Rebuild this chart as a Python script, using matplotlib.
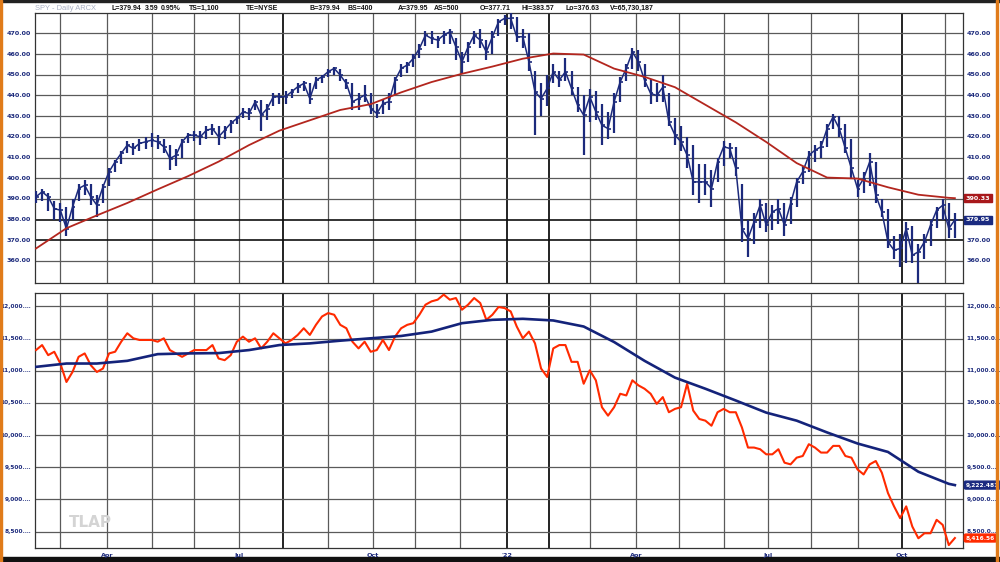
import numpy as np
import pandas as pd
import matplotlib
matplotlib.use("Agg")
import matplotlib.pyplot as plt
from matplotlib.patches import Rectangle

# ---------------- data ----------------
start_date = "2021-02-11"
end_date = "2022-11-14"
bar_step = 3  # each bar spans 3 business days

close = [391.0, 393.4, 391.0, 385.3, 384.5, 375.6, 386.1, 395.0, 396.6, 391.0,
         387.0, 395.8, 403.1, 407.9, 412.0, 416.0, 414.4, 416.8, 417.6, 418.4,
         417.6, 415.2, 409.5, 411.1, 417.6, 420.8, 420.8, 420.0, 423.2, 424.0,
         420.0, 423.2, 426.5, 428.9, 432.1, 431.3, 436.9, 430.5, 433.7, 439.4,
         439.4, 439.4, 441.8, 444.2, 445.8, 438.5, 447.4, 449.0, 451.5, 453.1,
         449.8, 445.8, 437.0, 438.5, 440.2, 433.7, 431.3, 436.1, 437.0, 447.4,
         453.1, 454.7, 457.9, 462.7, 469.2, 467.6, 466.8, 469.2, 470.8, 463.5,
         456.3, 463.5, 469.2, 466.8, 461.1, 468.4, 475.6, 477.3, 477.3, 468.4,
         468.4, 456.3, 441.8, 438.5, 443.4, 451.5, 447.4, 451.5, 443.4, 435.3,
         430.5, 439.4, 432.1, 425.6, 424.0, 437.0, 446.6, 453.1, 461.1, 456.3,
         447.4, 441.0, 440.0, 444.0, 427.3, 420.8, 417.6, 411.1, 398.2, 398.2,
         398.2, 395.0, 407.9, 415.2, 414.4, 404.7, 375.6, 370.8, 378.9, 387.0,
         377.3, 383.7, 385.3, 377.3, 387.7, 398.2, 403.1, 411.1, 413.5, 415.2,
         424.0, 429.7, 424.0, 414.4, 404.7, 395.0, 399.8, 407.9, 391.8, 383.7,
         369.2, 365.2, 366.0, 375.6, 362.7, 364.4, 369.2, 377.3, 384.5, 386.9,
         375.6, 379.9]

high = [394, 395, 393, 389, 388, 386, 390, 397, 399, 397,
        392, 397, 405, 409, 413, 418, 417, 419, 420, 422,
        421, 419, 416, 414, 419, 422, 423, 423, 425, 426,
        425, 425, 428, 430, 434, 434, 438, 438, 436, 441,
        441, 442, 443, 446, 447, 446, 449, 450, 453, 454,
        453, 448, 446, 441, 445, 441, 436, 438, 441, 449,
        455, 456, 460, 465, 471, 471, 469, 471, 472, 468,
        461, 466, 471, 472, 467, 471, 477, 479, 480, 478,
        472, 470, 452, 446, 450, 455, 452, 458, 452, 444,
        440, 443, 442, 436, 432, 441, 449, 455, 463, 462,
        455, 448, 446, 450, 441, 429, 425, 420, 416, 407,
        407, 404, 410, 418, 417, 415, 397, 380, 383, 390,
        388, 387, 390, 388, 391, 400, 406, 413, 416, 418,
        426, 431, 430, 426, 419, 399, 403, 412, 408, 390,
        385, 372, 373, 379, 377, 368, 373, 380, 386, 390,
        388, 383]

low = [388, 389, 384, 380, 379, 372, 380, 389, 392, 387,
       381, 388, 396, 403, 407, 412, 411, 413, 414, 415,
       414, 412, 404, 406, 410, 417, 418, 416, 419, 421,
       416, 419, 422, 426, 429, 428, 433, 423, 428, 435,
       436, 436, 439, 441, 442, 436, 443, 446, 449, 450,
       447, 443, 433, 433, 437, 431, 429, 431, 433, 440,
       449, 451, 454, 458, 464, 465, 463, 465, 465, 457,
       451, 456, 465, 463, 457, 460, 469, 474, 472, 466,
       463, 452, 421, 430, 435, 446, 444, 447, 440, 432,
       411, 427, 428, 416, 419, 422, 437, 447, 453, 452,
       444, 436, 437, 437, 425, 416, 413, 405, 392, 388,
       392, 386, 398, 406, 410, 401, 369, 362, 368, 376,
       374, 375, 378, 372, 378, 386, 397, 403, 408, 410,
       415, 424, 420, 412, 400, 391, 393, 396, 388, 381,
       366, 361, 357, 359, 359, 349, 361, 367, 376, 380,
       371, 371]

# 200-day moving average, one value every 5 bars (plus the last bar)
ma200 = [366.0, 375.8, 382.0, 388.0, 394.6, 401.0, 408.0, 416.0, 423.0, 428.0,
         433.0, 435.8, 441.5, 446.5, 450.5, 454.0, 457.8, 460.3, 459.8, 453.0,
         449.0, 444.0, 435.5, 427.0, 417.5, 407.3, 400.3, 399.8, 395.6, 392.0,
         390.5, 390.33]

# lower panel: red line (one value per bar) and blue average (every 5 bars + last)
red_line = [11321, 11399, 11242, 11295, 11112, 10825, 10981, 11216, 11269, 11086,
            10981, 11034, 11269, 11295, 11451, 11582, 11504, 11478, 11478, 11478,
            11451, 11504, 11321, 11269, 11216, 11269, 11321, 11321, 11321, 11399,
            11190, 11164, 11242, 11451, 11530, 11451, 11504, 11347, 11451, 11582,
            11504, 11425, 11478, 11556, 11660, 11556, 11713, 11843, 11896, 11870,
            11713, 11660, 11451, 11347, 11451, 11295, 11321, 11478, 11321, 11530,
            11660, 11713, 11739, 11870, 12026, 12078, 12104, 12183, 12104, 12130,
            11948, 12026, 12130, 12052, 11791, 11870, 11990, 11974, 11922, 11687,
            11504, 11608, 11425, 11034, 10903, 11347, 11399, 11399, 11138, 11138,
            10798, 11007, 10851, 10433, 10302, 10433, 10642, 10616, 10851, 10772,
            10720, 10642, 10485, 10590, 10355, 10407, 10433, 10798, 10381, 10250,
            10224, 10145, 10355, 10407, 10355, 10355, 10119, 9806, 9806, 9780,
            9701, 9701, 9780, 9571, 9545, 9649, 9675, 9858, 9806, 9728,
            9728, 9832, 9832, 9675, 9649, 9466, 9388, 9545, 9597, 9414,
            9100, 8892, 8709, 8892, 8579, 8396, 8474, 8474, 8683, 8604,
            8290, 8400]

blue_line = [11060, 11112, 11112, 11154, 11258, 11269, 11274, 11321, 11399, 11425,
             11467, 11504, 11540, 11608, 11739, 11791, 11807, 11781, 11687, 11446,
             11154, 10893, 10720, 10537, 10349, 10224, 10041, 9869, 9738, 9430,
             9242, 9222.48]

top_ticks = [360, 370, 380, 390, 400, 410, 420, 430, 440, 450, 460, 470]
bot_ticks = [8500, 9000, 9500, 10000, 10500, 11000, 11500, 12000]
month_labels = {(2021, 4): "Apr", (2021, 7): "Jul", (2021, 10): "Oct",
                (2022, 1): "'22", (2022, 4): "Apr", (2022, 7): "Jul", (2022, 10): "Oct"}

header_grey = "SPY - Daily ARCX"
header_parts = [("L=379.94", 111), ("3.59", 145), ("0.95%", 161), ("TS=1,100", 189),
                ("TE=NYSE", 246), ("B=379.94", 310), ("BS=400", 347), ("A=379.95", 398),
                ("AS=500", 434), ("O=377.71", 480), ("HI=383.57", 522), ("Lo=376.63", 565),
                ("V=65,730,187", 610)]
last_price_label = "379.95"
ma_label = "390.33"
blue_label = "9,222.481"
red_label = "8,416.56"

# ---------------- layout ----------------
W, H = 1000, 562
fig = plt.figure(figsize=(W / 100, H / 100), dpi=100)
fig.patch.set_facecolor("white")

def px_axes(x0, y0, x1, y1):
    return fig.add_axes([x0 / W, 1 - y1 / H, (x1 - x0) / W, (y1 - y0) / H])

ax1 = px_axes(35, 13, 963, 283)
ax2 = px_axes(35, 293, 963, 548)

days = pd.bdate_range(start_date, end_date)
N = len(days)
pos = np.arange(len(close)) * bar_step
ma_pos = np.r_[np.arange(0, len(close) - 1, 5), len(close) - 1] * bar_step

month_starts = []
for y in (2021, 2022):
    for m in range(1, 13):
        t = pd.Timestamp(y, m, 1)
        i = int(np.searchsorted(days, t))
        if 0 < i < N:
            month_starts.append((y, m, i))

navy = "#1c2a7c"
grid_c = "#5a5a5a"
dark_months = {(2021, 8), (2022, 1), (2022, 2), (2022, 10)}

for ax in (ax1, ax2):
    ax.set_xlim(-0.5, N - 1)
    ax.set_xticks([])
    ax.set_yticks([])
    for s in ax.spines.values():
        s.set_color("#333333")
        s.set_linewidth(0.9)
    for (y, m, i) in month_starts:
        dark = (y, m) in dark_months
        ax.axvline(i, color="#111111" if dark else grid_c,
                   lw=1.3 if dark else 0.9, zorder=1)

# ---- top panel ----
ax1.set_ylim(349.3, 479.9)
for v in top_ticks:
    dark = v in (380, 370)
    ax1.axhline(v, color="#111111" if dark else grid_c, lw=1.2 if dark else 0.9, zorder=1)
ax1.vlines(pos, low, high, color=navy, lw=1.6, zorder=3)
ax1.hlines(close, pos, pos + 1.4, color=navy, lw=1.2, zorder=3)
ax1.plot(pos, close, color=navy, lw=1.1, zorder=3)
ax1.plot(ma_pos, ma200, color="#b3261e", lw=1.3, zorder=4)

for v in top_ticks:
    ax1.text(-0.004, v, f"{v:.2f}", transform=ax1.get_yaxis_transform(),
             ha="right", va="center", fontsize=4.6, color=navy, fontweight="bold")
    if v not in (380, 390):
        ax1.text(1.004, v, f"{v:.2f}", transform=ax1.get_yaxis_transform(),
                 ha="left", va="center", fontsize=4.6, color=navy, fontweight="bold")
ax1.text(1.003, ma200[-1], ma_label, transform=ax1.get_yaxis_transform(),
         ha="left", va="center", fontsize=4.6, color="white", fontweight="bold",
         bbox=dict(boxstyle="square,pad=0.25", fc="#a8181b", ec="#a8181b"), zorder=6)
ax1.text(1.003, close[-1], last_price_label, transform=ax1.get_yaxis_transform(),
         ha="left", va="center", fontsize=4.6, color="white", fontweight="bold",
         bbox=dict(boxstyle="square,pad=0.25", fc="#1a2a80", ec="#1a2a80"), zorder=6)

# ---- bottom panel ----
ax2.set_ylim(8245, 12208)
for v in bot_ticks:
    ax2.axhline(v, color=grid_c, lw=0.9, zorder=1)
ax2.plot(pos, red_line, color="#ff2a00", lw=1.5, zorder=3)
ax2.plot(ma_pos, blue_line, color="#14237a", lw=1.9, zorder=4)

for v in bot_ticks:
    ax2.text(-0.004, v, f"{v:,.1f}"[:-1] + "…", transform=ax2.get_yaxis_transform(),
             ha="right", va="center", fontsize=4.2, color=navy, fontweight="bold")
    ax2.text(1.004, v, f"{v:,.2f}"[:-1] + "…", transform=ax2.get_yaxis_transform(),
             ha="left", va="center", fontsize=4.2, color=navy, fontweight="bold")
ax2.text(1.003, blue_line[-1], blue_label, transform=ax2.get_yaxis_transform(),
         ha="left", va="center", fontsize=4.2, color="white", fontweight="bold",
         bbox=dict(boxstyle="round,pad=0.25", fc="#1a2a80", ec="#1a2a80"), zorder=6)
ax2.text(1.003, red_line[-1], red_label, transform=ax2.get_yaxis_transform(),
         ha="left", va="center", fontsize=4.2, color="white", fontweight="bold",
         bbox=dict(boxstyle="round,pad=0.25", fc="#ff2a00", ec="#ff2a00"), zorder=6)

ax2.text(0.037, 0.1, "TLAP", transform=ax2.transAxes, fontsize=11,
         fontweight="bold", color="#d4d4d4", ha="left", va="center")

# month labels under the lower panel
for (y, m, i) in month_starts:
    if (y, m) in month_labels:
        ax2.text(i, -0.018, month_labels[(y, m)], transform=ax2.get_xaxis_transform(),
                 ha="center", va="top", fontsize=4.6, color=navy, fontweight="bold")

# header (all on one baseline)
hdr_font = ["Liberation Sans", "DejaVu Sans"]
base_y = 1 - 10 / H
fig.text(35 / W, base_y, header_grey, fontsize=5.4, color="#a9b0c4",
         ha="left", va="baseline", family=hdr_font)
for txt, xp in header_parts:
    fig.text(xp / W, base_y, txt, fontsize=5.0, color="#111111", fontweight="bold",
             ha="left", va="baseline", family=hdr_font)

# frame decorations
fig.add_artist(Rectangle((0, 0), 1, 5 / H, transform=fig.transFigure,
                         color="#111111", zorder=0))
fig.add_artist(Rectangle((0, 1 - 1.5 / H), 1, 1.5 / H, transform=fig.transFigure,
                         color="#222222", zorder=0))
fig.add_artist(Rectangle((0, 0), 2 / W, 1, transform=fig.transFigure,
                         color="#e07b1a", zorder=5))
fig.add_artist(Rectangle((996 / W, 0), 2 / W, 1, transform=fig.transFigure,
                         color="#e07b1a", zorder=5))

fig.savefig("out.png", dpi=100)
